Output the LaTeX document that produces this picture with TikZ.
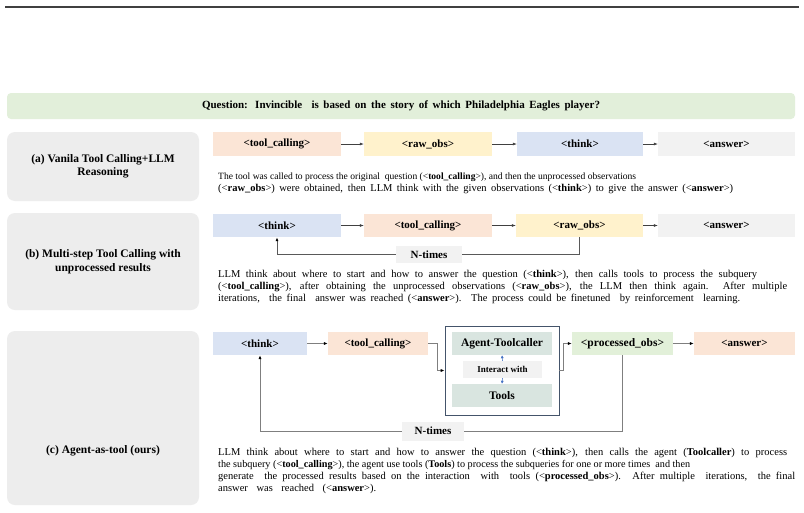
\documentclass[tikz,border=0pt]{standalone}
\usepackage{fontspec}
\setmainfont{Liberation Serif}
\usetikzlibrary{arrows.meta}

\newsavebox\flbox
\newlength\flw
\newlength\fltarget
\makeatletter
\newcommand\fitline[2]{%
  \setlength\fltarget{#1}%
  \sbox\flbox{#2}%
  \setlength\flw{\wd\flbox}%
  \ifdim\flw>\fltarget\relax
    \pgfmathsetmacro\flsz{\f@size*\fltarget/\flw}%
    \fontsize{\flsz}{\flsz}\selectfont
  \fi
  \makebox[\fltarget][s]{#2}}
\makeatother

\definecolor{cOrange}{HTML}{FBE5D6}
\definecolor{cYellow}{HTML}{FFF2CC}
\definecolor{cBlue}{HTML}{DAE3F3}
\definecolor{cGray}{HTML}{F2F2F2}
\definecolor{cGreen}{HTML}{E2F0D9}
\definecolor{cLabel}{HTML}{EDEDED}
\definecolor{cQuest}{HTML}{E2EFDA}
\definecolor{cTeal}{HTML}{D9E5E0}
\definecolor{cFrame}{HTML}{44546A}
\definecolor{cArrBlue}{HTML}{4472C4}
\definecolor{cLine}{HTML}{7F7F7F}

\tikzset{
  tagbox/.style={draw=none, inner sep=0pt, minimum height=23pt,
    font=\fontsize{11}{13}\selectfont\bfseries, text=black},
  labelbox/.style={draw=none, fill=cLabel, rounded corners=8pt, inner sep=0pt, minimum width=192pt},
  labeltext/.style={align=center, inner sep=0pt, font=\fontsize{11.5}{13.5}\selectfont\bfseries},
  bodyline/.style={anchor=west, inner sep=0pt, font=\fontsize{10.5}{12}\selectfont},
  thinarr/.style={draw=black!75, line width=0.6pt, -{Latex[length=4pt,width=3pt]}},
  conc/.style={draw=cLine, line width=1.1pt, -{Latex[length=4pt,width=3.2pt,color=black]}},
  loopline/.style={draw=cLine, line width=0.9pt},
  ntbox/.style={fill=cGray, inner sep=0pt, font=\fontsize{11}{13}\selectfont\bfseries},
  tealbox/.style={fill=cTeal, inner sep=0pt, minimum width=100pt, minimum height=23pt,
    font=\fontsize{11.5}{13}\selectfont\bfseries},
  bluearr/.style={draw=cArrBlue, line width=0.5pt, -{Latex[length=3pt,width=3pt]}},
}

\begin{document}
\begin{tikzpicture}[x=1pt,y=-1pt]
\useasboundingbox (0,0) rectangle (804,512);
\fill[white] (0,0) rectangle (804,512);

% top rule
\coordinate (ruleL) at (5,7);
\coordinate (ruleR) at (799,7);
\draw[line width=1.2pt, color=black!75] (ruleL) -- (ruleR);

% question
\node[fill=cQuest, rounded corners=4pt, minimum width=788pt, minimum height=26pt, inner sep=0pt,
  font=\fontsize{11}{13}\selectfont\bfseries] (quest) at (401,106)
  {\fitline{398pt}{Question: Invincible\ \ is based on the story of which Philadelphia Eagles player?}};

% ---------- (a) ----------
\node[labelbox, minimum height=69pt] (la) at (103,166.5) {};
\node[labeltext] (lat) at (103,166.5) {(a) Vanila Tool Calling+LLM\\Reasoning};

\node[tagbox, fill=cOrange, minimum width=128pt, minimum height=24pt] (tca) at (277,144) {<tool\_calling>};
\node[tagbox, fill=cYellow, minimum width=128pt, minimum height=24pt] (rawa) at (428,144) {<raw\_obs>};
\node[tagbox, fill=cBlue, minimum width=126pt, minimum height=24pt] (thinka) at (580,144) {<think>};
\node[tagbox, fill=cGray, minimum width=137pt, minimum height=24pt] (ansa) at (726.5,144) {<answer>};
\draw[thinarr] (tca) -- (rawa);
\draw[thinarr] (rawa) -- (thinka);
\draw[thinarr] (thinka) -- (ansa);

\node[bodyline] (ta1) at (218,177) {\fitline{418pt}{The tool was called to process the original\ \ question (<\textbf{tool\_calling}>), and then the unprocessed observations}};
\node[bodyline] (ta2) at (218,189) {\fitline{515pt}{(<\textbf{raw\_obs}>) were obtained, then LLM think with the given observations (<\textbf{think}>) to give the answer (<\textbf{answer}>)}};

% ---------- (b) ----------
\node[labelbox, minimum height=97pt] (lb) at (103,261.5) {};
\node[labeltext] (lbt) at (103,261.5) {(b) Multi-step Tool Calling with\\unprocessed results};

\node[tagbox, fill=cBlue, minimum width=128pt] (thinkb) at (277,225.5) {<think>};
\node[tagbox, fill=cOrange, minimum width=128pt] (tcb) at (428,225.5) {<tool\_calling>};
\node[tagbox, fill=cYellow, minimum width=127pt] (rawb) at (579.5,225.5) {<raw\_obs>};
\node[tagbox, fill=cGray, minimum width=137pt] (ansb) at (726.5,225.5) {<answer>};
\draw[thinarr] (thinkb) -- (tcb);
\draw[thinarr] (tcb) -- (rawb);
\draw[thinarr] (rawb) -- (ansb);

\node[ntbox, minimum width=66pt, minimum height=17pt] (ntb) at (429,254.5) {N-times};
\draw[loopline, draw=black!65] (rawb.south) |- (ntb.east);
\draw[loopline, draw=black!65, -{Latex[length=4pt,width=3pt,color=black]}] (ntb.west) -| (thinkb.south);

\node[bodyline] (tb1) at (218,275) {\fitline{539pt}{LLM think about where to start and how to answer the question (<\textbf{think}>), then calls tools to process the subquery}};
\node[bodyline] (tb2) at (218,287) {\fitline{569pt}{(<\textbf{tool\_calling}>), after obtaining the unprocessed observations (<\textbf{raw\_obs}>), the LLM then think again.\ \ After multiple}};
\node[bodyline] (tb3) at (218,298.5) {\fitline{522pt}{iterations,\ \ the final\ \ answer was reached (<\textbf{answer}>). The process could be finetuned\ \ by reinforcement\ \ learning.}};

% ---------- (c) ----------
\node[labelbox, minimum height=174pt] (lc) at (103,418) {};
\node[labeltext] (lct) at (103,451) {(c) Agent-as-tool (ours)};

\node[tagbox, fill=cBlue, minimum width=94pt] (thinkc) at (260,343.5) {<think>};
\node[tagbox, fill=cOrange, minimum width=100pt] (tcc) at (378,343.5) {<tool\_calling>};
\node[draw=cFrame, line width=0.8pt, fill=white, minimum width=114pt, minimum height=89pt, inner sep=0pt] (big) at (502,370.5) {};
\node[tealbox] (agent) at (502,343.5) {Agent-Toolcaller};
\node[fill=cGray, inner sep=0pt, minimum width=79pt, minimum height=17pt,
  font=\fontsize{9}{11}\selectfont\bfseries] (inter) at (502.5,369.5) {Interact with};
\node[tealbox] (tools) at (502,395.5) {Tools};
\draw[bluearr] (inter.north) -- (agent.south);
\draw[bluearr] (inter.south) -- (tools.north);

\node[tagbox, fill=cGreen, minimum width=101pt, font=\fontsize{11.5}{13}\selectfont\bfseries] (pobs) at (622.5,343.5) {<processed\_obs>};
\node[tagbox, fill=cOrange, minimum width=101pt] (ansc) at (744.5,343.5) {<answer>};

\draw[conc] (thinkc) -- (tcc);
\draw[conc] (tcc.east) -- ++(9,0) |- (big.west);
\draw[conc] (big.east) -- ++(4,0) |- (pobs.west);
\draw[conc] (pobs) -- (ansc);

\node[ntbox, minimum width=62pt, minimum height=19pt] (ntc) at (433,431) {N-times};
\draw[loopline] (pobs.south) |- (ntc.east);
\draw[loopline, -{Latex[length=4pt,width=3.2pt,color=black]}] (ntc.west) -| (thinkc.south);

\node[bodyline] (tc1) at (218,453) {\fitline{569pt}{LLM think about where to start and how to answer the question (<\textbf{think}>), then calls the agent (\textbf{Toolcaller}) to process}};
\node[bodyline] (tc2) at (218,465) {\fitline{472pt}{the subquery (<\textbf{tool\_calling}>), the agent use tools (\textbf{Tools}) to process the subqueries for one or more times\ \ and then}};
\node[bodyline] (tc3) at (218,477) {\fitline{577pt}{generate\ \ the processed results based on the interaction\ \ with\ \ tools (<\textbf{processed\_obs}>). After multiple\ \ iterations,\ \ the final}};
\node[bodyline] (tc4) at (218,488.5) {\fitline{158pt}{answer was reached (<\textbf{answer}>).}};
\end{tikzpicture}
\end{document}
